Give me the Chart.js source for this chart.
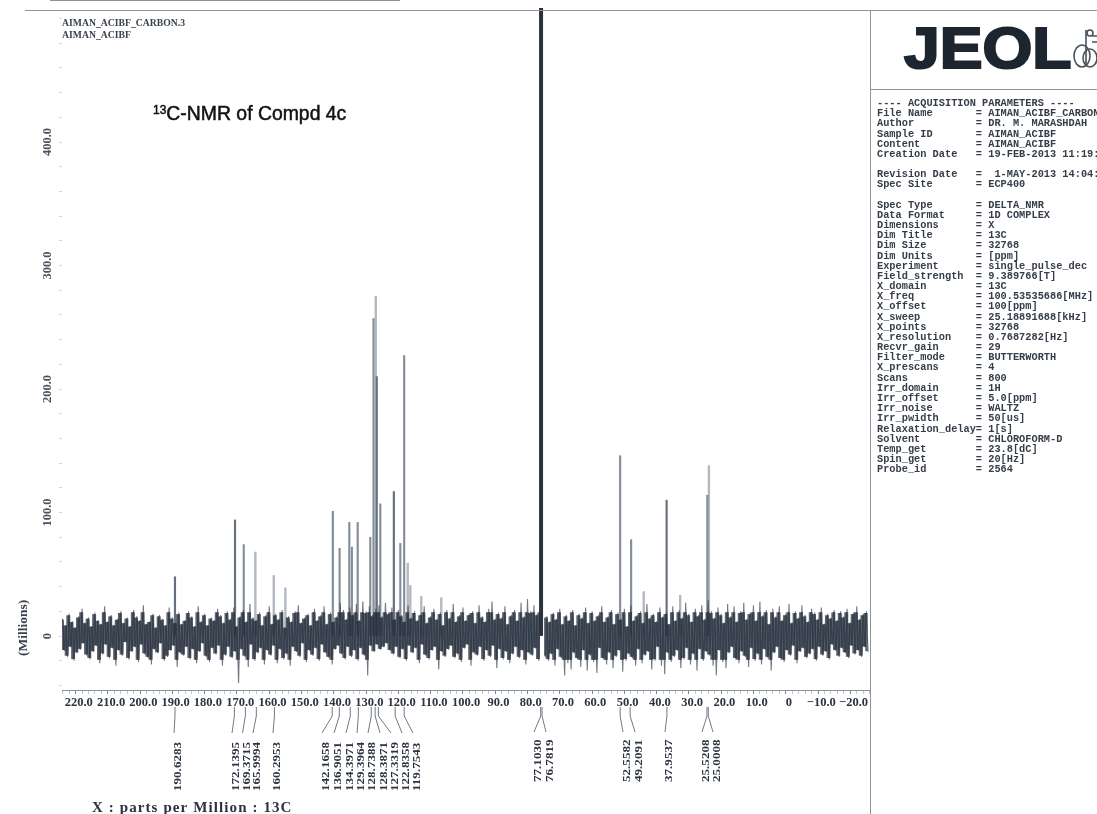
<!DOCTYPE html>
<html>
<head>
<meta charset="utf-8">
<title>13C-NMR of Compd 4c</title>
<script src="https://cdn.jsdelivr.net/npm/chart.js@4"></script>
<style>
html,body{margin:0;padding:0;background:#fff;width:1097px;height:814px;overflow:hidden}
#wrap{position:absolute;left:0;top:0;width:1097px;height:814px;filter:blur(.35px)}
canvas{position:absolute;left:0;top:0}
.abs{position:absolute;white-space:pre}
.rule{position:absolute;background:#8d939b}
#head{left:62px;top:17px;font:bold 9.7px/11.5px "Liberation Serif";color:#3a424d}
#ttl{left:153px;top:102px;font:normal 19.4px/22px "Liberation Sans";color:#111;-webkit-text-stroke:.5px #111}
#ttl sup{font-size:12px;line-height:0;vertical-align:6px}
#jeol{left:904px;top:10px;font:bold 57px/76px "Liberation Sans";color:#1c2530;transform-origin:0 0;transform:scaleX(1.125);-webkit-text-stroke:2.2px #1c2530}
#params{left:877px;top:98px;font:bold 10.3px/10.17px "Liberation Mono";color:#353d49;filter:blur(.25px)}
#logo{position:absolute;left:1072px;top:28px}
</style>
</head>
<body>
<div id="wrap">
<canvas id="c" width="1097" height="814"></canvas>
<div class="rule" style="left:25px;top:10px;width:1072px;height:1px"></div>
<div class="rule" style="left:50px;top:0;width:350px;height:1px"></div>
<div class="rule" style="left:870px;top:10px;width:1px;height:804px"></div>
<div class="rule" style="left:870px;top:89px;width:227px;height:1px"></div>
<div id="head" class="abs">AIMAN_ACIBF_CARBON.3
AIMAN_ACIBF</div>
<div id="ttl" class="abs"><sup>13</sup>C-NMR of Compd 4c</div>
<div id="jeol" class="abs">JEOL</div>
<svg id="logo" width="25" height="44" viewBox="0 0 25 44" fill="none" stroke="#4a525c" stroke-width="1.6">
<ellipse cx="10" cy="28" rx="8" ry="11"/><ellipse cx="18" cy="30" rx="7" ry="9"/><path d="M14 2v36M20 8h5M20 14h5"/><circle cx="18" cy="5" r="3"/>
</svg>
<div id="params" class="abs">---- ACQUISITION PARAMETERS ----
File Name       = AIMAN_ACIBF_CARBON.3
Author          = DR. M. MARASHDAH
Sample ID       = AIMAN_ACIBF
Content         = AIMAN_ACIBF
Creation Date   = 19-FEB-2013 11:19:

Revision Date   =  1-MAY-2013 14:04:
Spec Site       = ECP400

Spec Type       = DELTA_NMR
Data Format     = 1D COMPLEX
Dimensions      = X
Dim Title       = 13C
Dim Size        = 32768
Dim Units       = [ppm]
Experiment      = single_pulse_dec
Field_strength  = 9.389766[T]
X_domain        = 13C
X_freq          = 100.53535686[MHz]
X_offset        = 100[ppm]
X_sweep         = 25.18891688[kHz]
X_points        = 32768
X_resolution    = 0.7687282[Hz]
Recvr_gain      = 29
Filter_mode     = BUTTERWORTH
X_prescans      = 4
Scans           = 800
Irr_domain      = 1H
Irr_offset      = 5.0[ppm]
Irr_noise       = WALTZ
Irr_pwidth      = 50[us]
Relaxation_delay= 1[s]
Solvent         = CHLOROFORM-D
Temp_get        = 23.8[dC]
Spin_get        = 20[Hz]
Probe_id        = 2564</div>
</div>
<script>
// Baseline trace, one sample each 0.5 ppm
const baseline225to175 = [14,-12,9,-17,18,-9,12,-20,7,-14,16,-11,22,-6,11,-16,15,-19,8,-13,
19,-8,13,-22,10,-15,24,-7,12,-18,17,-10,9,-24,14,-12,20,-16,11,-5,
15,-19,8,-13,21,-9,16,-21,13,-7,25,-15,10,-18,12,-23,18,-11,7,-14,
17,-6,14,-20,9,-17,23,-12,15,-8,11,-25,19,-14,10,-16,13,-9,20,-19,
16,-11,8,-22,24,-13,12,-6,18,-17,9,-21,15,-10,13,-15,22,-8,17,-24];
const baseline175to125 = [11,-16,20,-9,14,-18,23,-13,8,-38,16,-11,21,-17,12,-25,26,-7,15,-20,
13,-14,19,-10,9,-23,17,-12,24,-16,10,-8,18,-22,14,-11,21,-19,7,-15,
16,-24,12,-9,20,-13,25,-17,11,-6,15,-21,18,-12,9,-16,22,-10,13,-20,
17,-7,24,-14,10,-18,19,-23,12,-11,16,-8,27,-15,21,-19,14,-9,23,-17,
18,-12,26,-20,13,-10,28,-16,20,-32,24,-8,17,-13,22,-7,25,-11,16,-9];
const baseline125to75 = [27,-6,19,-12,23,-15,14,-9,21,-18,17,-11,12,-20,25,-8,15,-14,20,-10,
13,-22,18,-7,24,-16,11,-19,16,-12,22,-9,14,-27,19,-13,9,-17,21,-11,
15,-8,26,-18,12,-15,17,-21,23,-10,13,-7,18,-24,20,-14,11,-16,25,-9,
16,-20,12,-12,22,-17,28,-8,14,-26,19,-11,15,-19,24,-13,10,-22,17,-15,
21,-9,13,-18,27,-12,16,-23,30,-14,20,-16,25,-10,18,-20,26,null,null,-17];
const baseline75to25 = [16,-20,12,-15,19,-24,14,-11,22,-18,10,-32,17,-22,13,-27,21,-14,9,-19,
18,-25,15,-12,23,-28,11,-16,20,-21,13,-30,17,-10,24,-19,12,-23,16,-14,
21,-26,10,-17,19,-12,14,-29,22,-20,8,-15,25,-18,13,-24,17,-11,20,-22,
11,-16,26,-13,15,-27,18,-20,12,-9,23,-24,16,-31,19,-14,10,-21,24,-17,
13,-12,21,-26,15,-19,27,-10,18,-23,12,-15,22,-28,17,-11,25,-20,14,-13];
const baseline25toMinus25 = [29,-16,20,-24,15,-32,23,-12,18,-21,11,-26,26,-14,16,-9,24,-19,12,-22,
20,-13,27,-17,14,-25,19,-10,25,-20,13,-15,28,-23,17,-11,21,-18,10,-28,
22,-14,16,-9,24,-19,13,-21,18,-12,26,-16,11,-8,20,-22,15,-13,25,-10,
17,-18,12,-15,22,-11,19,-20,14,-9,23,-16,10,-13,18,-19,15,-7,21,-12,
13,-17,20,-10,16,-14,22,-18,11,-8,19,-15,24,-12,14,-17,18,-9,20,-13];

// Peaks above the baseline
const darkPeakPpm = [190.2,171.6,127.7,122.4,37.9];
const darkPeakHeight = [48,94,210,117,110];
const midPeakPpm = [168.9,141.3,139.2,136.2,135.4,133.6,129.7,128.7,126.6,120.4,119.2,52.3,48.9,25.3];
const midPeakHeight = [74,101,71,92,72,92,80,257,107,75,227,146,78,114];
const faintPeakPpm = [165.3,159.6,156,128,118.1,117.3,113.9,107.7,45,33.7,24.8];
const faintPeakHeight = [68,49,39,275,59,41,32,31,36,33,138];
const solventPpm = [77.1,76.8,76.5];
const solventHeight = [520,520,520];

// Printed peak picks
const pickLabels = ['190.6283','172.1395','169.3715','165.9994','160.2953','142.1658','136.9051','134.3971','129.3964','128.7388','128.3871','127.3319','122.8358','119.7543','77.1030','76.7819','52.5582','49.2091','37.9537','25.5208','25.0008'];
const pickAnchorPpm = [190.2,171.8,168.4,165,159.4,141.5,139.3,135.9,133.4,129.4,128.2,127.2,122,119.2,76.9,76.5,52.3,49.2,37.8,25.4,25];
const yAxisMajor = [0,100,200,300,400];

const baselineValues = [].concat(baseline225to175,baseline175to125,baseline125to75,baseline75to25,baseline25toMinus25);
const pairs = (xs,ys)=>xs.map((x,i)=>({x,y:ys[i]}));

// Dense core of the baseline: the span between neighbouring samples, kept inside the dark band
const CORE_SHARE = 0.92, CORE_LIMIT = 19;
const coreValue = v=>Math.max(-CORE_LIMIT,Math.min(CORE_LIMIT,v*CORE_SHARE));
const coreSpans = [];
baselineValues.forEach((v,i)=>{
  const n = baselineValues[i+1];
  if(v!==null && n!==null && n!==undefined) coreSpans.push({x:225-i*0.5,y:[coreValue(v),coreValue(n)]});
});

// layout of the annotation
const labelColumnX = [177,235,245.5,256,276,325,337,349,360,371,383,394,405,416,537,549,626,638,668,705,716];

const annotate = {
  id:'annotate',
  afterDraw(chart){
    const ctx=chart.ctx, sx=chart.scales.x;
    ctx.save();
    ctx.strokeStyle='#6f7884'; ctx.lineWidth=1;
    pickLabels.forEach((t,i)=>{
      const px=sx.getPixelForValue(pickAnchorPpm[i]);
      const tx=labelColumnX[i]-3, right=i>=14, endY=right?732:733;
      ctx.beginPath(); ctx.moveTo(px,707); ctx.lineTo(px,716); ctx.lineTo(tx,endY); ctx.stroke();
      ctx.save();
      ctx.translate(labelColumnX[i]+4,right?782:791);
      ctx.rotate(-Math.PI/2);
      ctx.scale(1.09,.92);
      ctx.font='bold 12px "Liberation Serif"'; ctx.fillStyle='#2b3340'; ctx.textAlign='left'; ctx.textBaseline='alphabetic';
      ctx.fillText(t,0,0);
      ctx.restore();
    });
    ctx.save();
    ctx.translate(27,656); ctx.rotate(-Math.PI/2);
    ctx.font='bold 13.5px "Liberation Serif"'; ctx.fillStyle='#3a424d'; ctx.textAlign='left';
    ctx.fillText('(Millions)',0,0);
    ctx.restore();
    ctx.font='bold 15px "Liberation Serif"'; ctx.fillStyle='#2b3340'; ctx.letterSpacing='1.1px'; ctx.textAlign='left';
    ctx.fillText('X : parts per Million : 13C',92,812);
    ctx.restore();
  }
};

const bar = (data,color,thick,order)=>({type:'bar',data,backgroundColor:color,barThickness:thick,order:order||3,borderWidth:0,grouped:false});

new Chart(document.getElementById('c'),{
  data:{datasets:[
    {type:'line',label:'13C',data:baselineValues.map((y,i)=>({x:225-i*0.5,y})),borderColor:'rgba(48,58,72,.68)',borderWidth:1.1,pointRadius:0,tension:0,spanGaps:false,order:1},
    bar(coreSpans,'rgba(24,34,48,.7)',1.7,2),
    bar(pairs(darkPeakPpm,darkPeakHeight),'#66707c',1.5),
    bar(pairs(midPeakPpm,midPeakHeight),'#848e99',1.5),
    bar(pairs(faintPeakPpm,faintPeakHeight),'#b2b8c0',1.7),
    bar(pairs(solventPpm,solventHeight),'#2d333c',1.4)
  ]},
  options:{
    responsive:false,animation:false,parsing:{xAxisKey:'x',yAxisKey:'y'},
    layout:{padding:{top:8,right:227,left:0,bottom:0}},
    plugins:{legend:{display:false},tooltip:{enabled:false}},
    scales:{
      x:{type:'linear',reverse:true,min:-25.1,max:225.2,offset:false,
        afterFit:s=>{s.height=124},
        border:{color:'#8d939b',width:1},
        grid:{drawOnChartArea:false,tickLength:4,tickWidth:1,tickColor:c=>c.tick&&c.tick.value%10===0?'#7b838d':'#c3c7cc'},
        ticks:{stepSize:2,autoSkip:false,maxRotation:0,minRotation:0,padding:1,includeBounds:false,color:'#2b3340',
          font:{family:'"Liberation Serif"',size:12.5,weight:'bold'},
          callback:v=>{if(v%10!==0)return '';if(v===0)return '0';return (v<0?'\u2212':'')+Math.abs(v).toFixed(1);}}
      },
      y:{type:'linear',min:-43.7,max:508.5,
        afterFit:s=>{s.width=62},
        border:{display:false},
        grid:{drawOnChartArea:false,tickLength:3,tickWidth:1,tickColor:'#d6d9dc'},
        ticks:{stepSize:20,autoSkip:false,minRotation:90,maxRotation:90,crossAlign:'center',padding:-3,includeBounds:false,color:'#4a525c',
          font:{family:'"Liberation Serif"',size:12.5,weight:'bold'},
          callback:v=>yAxisMajor.includes(v)?(v===0?'0':v.toFixed(1)):''}
      }
    }
  },
  plugins:[annotate]
});
</script>
</body>
</html>
